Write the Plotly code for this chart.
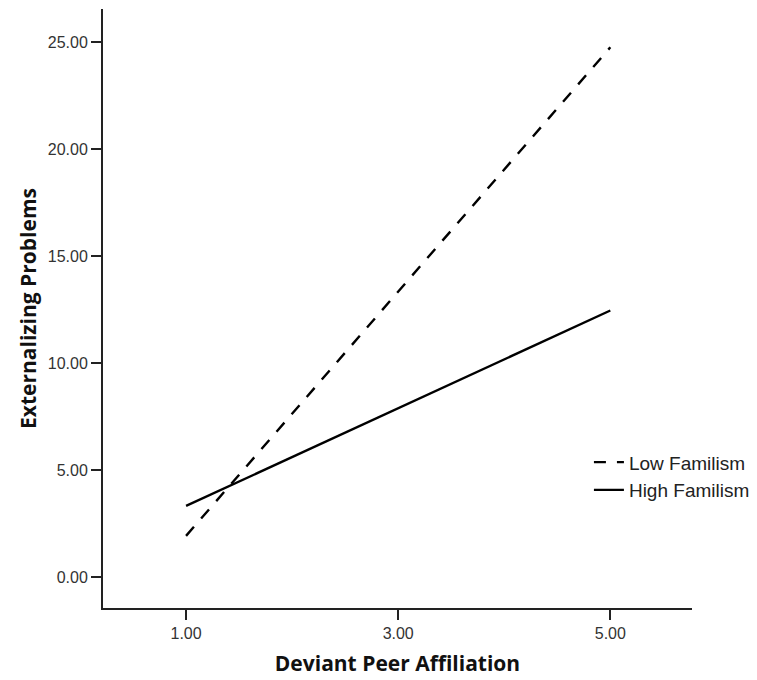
import plotly.graph_objects as go

x_vals = [1.0, 5.0]
low_familism = [1.92, 24.75]
high_familism = [3.32, 12.45]
x_ticks = [1, 3, 5]
x_tick_labels = ["1.00", "3.00", "5.00"]
y_ticks = [0, 5, 10, 15, 20, 25]
y_tick_labels = ["0.00", "5.00", "10.00", "15.00", "20.00", "25.00"]

fig = go.Figure()
fig.add_trace(go.Scatter(x=x_vals, y=low_familism, mode="lines", name="Low Familism",
                         line=dict(color="black", width=2.4, dash="12px,11px")))
fig.add_trace(go.Scatter(x=x_vals, y=high_familism, mode="lines", name="High Familism",
                         line=dict(color="black", width=2.4)))

tick_font = dict(family="Liberation Sans", size=16, color="#333")
title_font = dict(family="Open Sans", size=21, color="#111")
axis_common = dict(showgrid=False, zeroline=False, showline=True, linecolor="#222",
                   linewidth=2, ticks="outside", ticklen=10, tickwidth=2, tickcolor="#222",
                   tickfont=tick_font)

fig.update_xaxes(range=[0.217, 5.77], tickvals=x_ticks, ticktext=x_tick_labels,
                 title=dict(text="<b>Deviant Peer Affiliation</b>", font=title_font, standoff=15),
                 **axis_common)
fig.update_yaxes(range=[-1.45, 26.54], tickvals=y_ticks, ticktext=y_tick_labels,
                 title=dict(text="<b>Externalizing Problems</b>", font=title_font, standoff=5),
                 **axis_common)

fig.update_layout(
    width=757, height=680,
    margin=dict(l=95, r=73, t=1, b=80, autoexpand=False),
    plot_bgcolor="white", paper_bgcolor="white",
    showlegend=True,
    legend=dict(x=0.825, y=0.275, xanchor="left", yanchor="top",
                font=dict(family="Liberation Sans", size=19, color="#222"),
                bgcolor="rgba(0,0,0,0)", tracegroupgap=0),
)

fig.write_html("out.html")
